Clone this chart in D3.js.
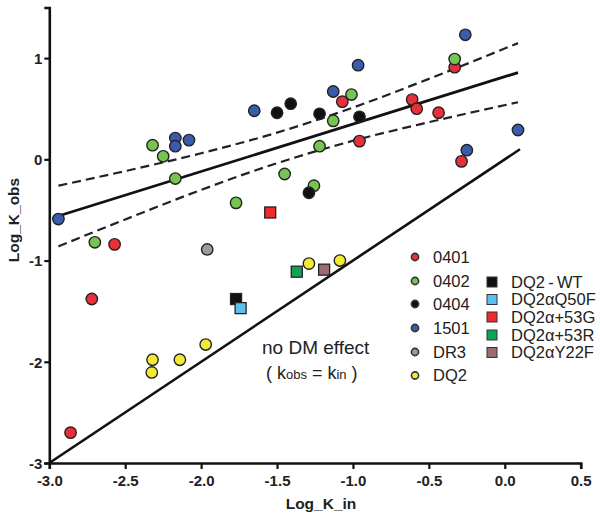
<!DOCTYPE html>
<html>
<head>
<meta charset="utf-8">
<script src="https://cdn.jsdelivr.net/npm/d3@7"></script>
<style>
  html, body { margin: 0; padding: 0; background: #fff; }
  svg { display: block; font-family: "Liberation Sans", Arial, Helvetica, sans-serif; }
</style>
</head>
<body>
<svg id="chart" width="600" height="518"></svg>
<script>
// ---------- data ----------
const alleleNames = ["0401", "0402", "0404", "1501", "DR3", "DQ2"];
const alleleColors = ["#e8303a", "#76c553", "#111111", "#3b5cad", "#9b9b9b", "#f2ea33"];

const pts0401 = [[-2.86, -2.70], [-2.72, -1.38], [-2.57, -0.84], [-1.07, 0.57], [-0.957, 0.18],
                 [-0.61, 0.59], [-0.58, 0.50], [-0.436, 0.46], [-0.33, 0.91], [-0.285, -0.02]];
const pts0402 = [[-2.70, -0.82], [-2.32, 0.14], [-2.25, 0.03], [-2.17, -0.19], [-1.77, -0.43],
                 [-1.45, -0.145], [-1.257, -0.26], [-1.22, 0.13], [-1.13, 0.38], [-1.01, 0.64], [-0.33, 0.99]];
const pts0404 = [[-1.50, 0.46], [-1.41, 0.55], [-1.22, 0.45], [-0.957, 0.42], [-1.29, -0.33]];
const pts1501 = [[-2.94, -0.59], [-2.17, 0.21], [-2.17, 0.13], [-2.08, 0.19], [-1.65, 0.48],
                 [-1.13, 0.67], [-0.966, 0.93], [-0.26, 1.23], [-0.25, 0.09], [0.087, 0.29]];
const ptsDR3 = [[-1.96, -0.89]];
const ptsDQ2 = [[-2.32, -1.98], [-2.325, -2.105], [-2.14, -1.98], [-1.97, -1.83], [-1.29, -1.03], [-1.086, -1.00]];
const circleSeries = [pts0401, pts0402, pts0404, pts1501, ptsDR3, ptsDQ2];

const mutantNames = ["DQ2\u2009-\u2009WT", "DQ2\u03B1Q50F", "DQ2\u03B1+53G", "DQ2\u03B1+53R", "DQ2\u03B1Y22F"];
const mutantColors = ["#111111", "#5cc0ef", "#ee2b2b", "#0ea457", "#9a6b70"];
const mutantX = [-1.77, -1.74, -1.545, -1.37, -1.19];
const mutantY = [-1.38, -1.47, -0.525, -1.11, -1.09];

// regression fit and 95% band
const fitX = [-2.94, 0.087];
const fitY = [-0.56, 0.857];
const bandX = [-2.94, -2.5, -2.0, -1.5, -1.0, -0.5, 0.087];
const bandUpper = [-0.26, -0.116, 0.06, 0.264, 0.511, 0.795, 1.148];
const bandLower = [-0.86, -0.594, -0.302, -0.038, 0.183, 0.367, 0.564];

// identity line (no DM effect)
const identX = [-3.0, 0.1];
const identY = [-3.0, 0.1];

const xTicks = [-3.0, -2.5, -2.0, -1.5, -1.0, -0.5, 0.0, 0.5];
const yTicks = [-3, -2, -1, 0, 1];

// ---------- drawing ----------
const svg = d3.select("#chart");
const x = d3.scaleLinear().domain([-3, 0.5]).range([49.3, 580.7]);
const y = d3.scaleLinear().domain([-3, 1.5]).range([463, 7.5]);

// axes
const xAxis = svg.append("g").attr("transform", `translate(0,${y(-3)})`)
  .call(d3.axisBottom(x).tickValues(xTicks).tickFormat(d3.format(".1f")).tickSizeOuter(0).tickSize(6).tickPadding(4));
const yAxis = svg.append("g").attr("transform", `translate(${x(-3)},0)`)
  .call(d3.axisLeft(y).tickValues(yTicks).tickFormat(d3.format("d")).tickSizeOuter(0).tickSize(5).tickPadding(2));
[xAxis, yAxis].forEach(g => {
  g.select(".domain").attr("stroke", "#111").attr("stroke-width", 2.6);
  g.selectAll(".tick line").attr("stroke", "#111").attr("stroke-width", 2.2);
  g.selectAll(".tick text").attr("fill", "#222").attr("font-size", 15).attr("font-weight", "bold")
    .attr("font-family", "'Liberation Sans', Arial, sans-serif");
});
xAxis.selectAll(".tick text").attr("dy", "0.85em");
yAxis.selectAll(".tick text").attr("dy", "0.35em");
xAxis.selectAll(".tick text").text(d => d3.format(".1f")(d).replace("\u2212", "-"));
yAxis.selectAll(".tick text").text(d => String(d));

// axis titles
svg.append("text").attr("x", 321).attr("y", 509).attr("text-anchor", "middle")
  .attr("font-size", 15.5).attr("font-weight", "bold").attr("fill", "#222").text("Log_K_in");
svg.append("text").attr("transform", `translate(19,220) rotate(-90)`).attr("text-anchor", "middle")
  .attr("font-size", 15.5).attr("font-weight", "bold").attr("fill", "#222").text("Log_K_obs");

// identity line
const line = d3.line().x(d => x(d[0])).y(d => y(d[1]));
svg.append("path").datum(d3.zip(identX, identY)).attr("d", line)
  .attr("fill", "none").attr("stroke", "#111").attr("stroke-width", 2.6);

// confidence band
const curve = d3.line().x(d => x(d[0])).y(d => y(d[1])).curve(d3.curveMonotoneX);
[bandUpper, bandLower].forEach(b => {
  svg.append("path").datum(d3.zip(bandX, b)).attr("d", curve)
    .attr("fill", "none").attr("stroke", "#222").attr("stroke-width", 2.2).attr("stroke-dasharray", "9,5");
});
// regression
svg.append("path").datum(d3.zip(fitX, fitY)).attr("d", line)
  .attr("fill", "none").attr("stroke", "#111").attr("stroke-width", 2.8);

// circles
circleSeries.forEach((s, i) => {
  svg.append("g").selectAll("circle").data(s).join("circle")
    .attr("cx", d => x(d[0])).attr("cy", d => y(d[1])).attr("r", 5.7)
    .attr("fill", alleleColors[i]).attr("stroke", "#222").attr("stroke-width", 1.4);
});

// squares
const sq = 11;
svg.append("g").selectAll("rect").data(d3.range(mutantNames.length)).join("rect")
  .attr("x", i => x(mutantX[i]) - sq / 2).attr("y", i => y(mutantY[i]) - sq / 2)
  .attr("width", sq).attr("height", sq)
  .attr("fill", i => mutantColors[i]).attr("stroke", "#222").attr("stroke-width", 1.3);

// annotation
svg.append("text").attr("x", 262).attr("y", 354).attr("font-size", 19).attr("fill", "#222").text("no DM effect");
const t2 = svg.append("text").attr("x", 266).attr("y", 379).attr("font-size", 18).attr("fill", "#222");
t2.append("tspan").text("( k");
t2.append("tspan").attr("font-size", 13).text("obs");
t2.append("tspan").text(" = k");
t2.append("tspan").attr("font-size", 13).text("in");
t2.append("tspan").text(" )");

// legend: circles
const legC = svg.append("g");
const legCY = [257, 281, 304, 328, 352, 375.5];
alleleNames.forEach((n, i) => {
  legC.append("circle").attr("cx", 415).attr("cy", legCY[i]).attr("r", 3.6)
    .attr("fill", alleleColors[i]).attr("stroke", "#333").attr("stroke-width", 1.6);
  legC.append("text").attr("x", 433).attr("y", legCY[i]).attr("dy", "0.36em")
    .attr("font-size", 16.5).attr("fill", "#222").text(n);
});
// legend: squares
const legS = svg.append("g");
const legSY = [282, 299.5, 317, 335, 352.5];
mutantNames.forEach((n, i) => {
  legS.append("rect").attr("x", 487).attr("y", legSY[i] - 5).attr("width", 10).attr("height", 10)
    .attr("fill", mutantColors[i]).attr("stroke", "#333").attr("stroke-width", 1);
  legS.append("text").attr("x", 511).attr("y", legSY[i]).attr("dy", "0.36em")
    .attr("font-size", 16.5).attr("fill", "#222").text(n);
});
</script>
</body>
</html>
